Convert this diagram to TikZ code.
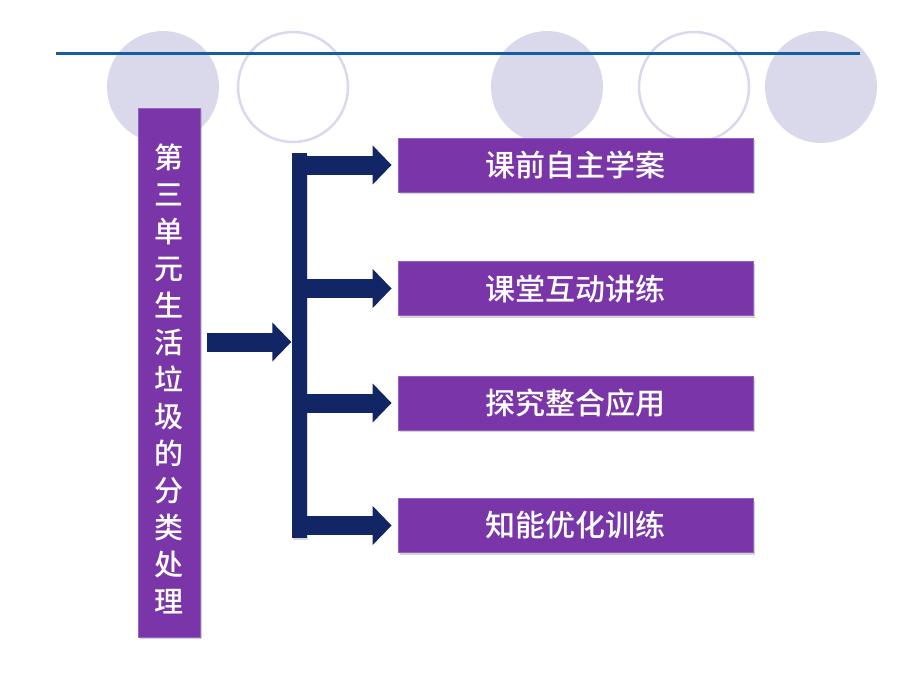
\documentclass[tikz,border=0pt]{standalone}
\usepackage{fontspec}
\newfontfamily\cjk[UprightFont={* Medium}]{Noto Sans CJK SC}
\usetikzlibrary{arrows.meta,shadows}
\definecolor{boxpurple}{RGB}{122,54,168}
\definecolor{boxedge}{RGB}{150,95,195}
\definecolor{navy}{RGB}{18,38,102}
\definecolor{ringfill}{RGB}{218,217,236}
\definecolor{ringline}{RGB}{218,216,238}
\definecolor{topline}{RGB}{26,92,160}
\tikzset{
  pbox/.style={draw=boxedge, line width=0.8pt, fill=boxpurple, text=white, inner sep=0pt,
    drop shadow={shadow xshift=2pt, shadow yshift=-2pt, opacity=0.35}},
  itemlabel/.style={pbox, minimum width=355pt, minimum height=54pt, font=\cjk\fontsize{30}{34}\selectfont},
  bigarrow/.style={draw=navy, line width=19pt,
    -{Triangle[length=19pt,width=38pt]}, shorten >=6pt},
  ringdisc/.style={fill=ringfill, draw=none},
  ringopen/.style={draw=ringline, line width=2.5pt, fill=none}
}
\begin{document}
\begin{tikzpicture}[x=1pt,y=-1pt]
\useasboundingbox (0,0) rectangle (920,690);
% decorative circles
\node[ringdisc, circle, minimum size=112pt] (c1) at (163,87) {};
\node[ringopen, circle, minimum size=110pt] (c2) at (293,87) {};
\node[ringdisc, circle, minimum size=112pt] (c3) at (547,87) {};
\node[ringopen, circle, minimum size=110pt] (c4) at (694,87) {};
\node[ringdisc, circle, minimum size=112pt] (c5) at (821,87) {};
% top line
\coordinate (l1) at (56,54);
\coordinate (l2) at (860,54);
\draw[topline, line width=3pt] (l1) -- (l2);
% left title box
\node[pbox, minimum width=62pt, minimum height=529pt] (title) at (169,372.5) {};
\node[text=white, align=center, inner sep=0pt,
  font=\cjk\fontsize{29}{37}\selectfont] (titletext) at (169,379)
  {第\\三\\单\\元\\生\\活\\垃\\圾\\的\\分\\类\\处\\理};
% vertical bar
\node[fill=navy, minimum width=15pt, minimum height=385pt, inner sep=0pt,
  drop shadow={shadow xshift=1.5pt, shadow yshift=-1.5pt, opacity=0.3}] (bar) at (299,345.5) {};
% item boxes
\node[itemlabel] (b1) at (575.5,165) {课前自主学案};
\node[itemlabel] (b2) at (575.5,288.5) {课堂互动讲练};
\node[itemlabel] (b3) at (575.5,403) {探究整合应用};
\node[itemlabel] (b4) at (575.5,525.5) {知能优化训练};
% arrows
\coordinate (inA) at (200,342);
\draw[bigarrow, shorten <=7pt, shorten >=0pt] (inA) -- (bar.west |- inA);
\draw[bigarrow] (bar.east |- b1) -- (b1.west);
\draw[bigarrow] (bar.east |- b2) -- (b2.west);
\draw[bigarrow] (bar.east |- b3) -- (b3.west);
\draw[bigarrow] (bar.east |- b4) -- (b4.west);
\end{tikzpicture}
\end{document}
